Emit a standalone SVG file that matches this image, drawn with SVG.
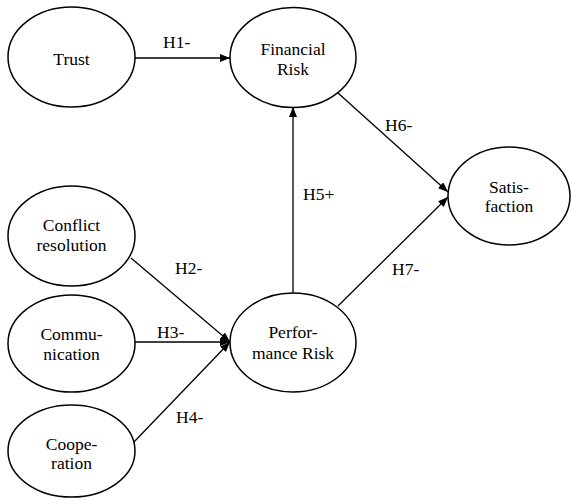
<svg xmlns="http://www.w3.org/2000/svg" width="571" height="498" viewBox="0 0 571 498">
<defs>
<marker id="ah" viewBox="0 0 10 8" refX="10" refY="4" markerWidth="10" markerHeight="8" markerUnits="userSpaceOnUse" orient="auto">
<path d="M0,0 L10,4 L0,8 Z" fill="#000"/>
</marker>
</defs>
<style>
.n ellipse{fill:#fff;stroke:#000;stroke-width:1.5}
.n text{text-anchor:middle}
.c line{stroke:#000;stroke-width:1.3;marker-end:url(#ah)}
</style>
<rect width="571" height="498" fill="#fff"/>
<g font-family="'Liberation Serif', 'Times New Roman', Times, serif" font-size="17.5" fill="#000">
<g class="c" id="connectors">
<line x1="135" y1="58" x2="230" y2="58"/>
<line x1="293" y1="293" x2="293" y2="107"/>
<line x1="338" y1="93" x2="448" y2="192"/>
<line x1="338" y1="306" x2="448" y2="197"/>
<line x1="131" y1="258" x2="230" y2="342"/>
<line x1="135" y1="342" x2="230" y2="342"/>
<line x1="133" y1="443" x2="230" y2="342"/>
<text x="163" y="48">H1-</text>
<text x="303" y="200">H5+</text>
<text x="385" y="131">H6-</text>
<text x="392" y="275">H7-</text>
<text x="175" y="274">H2-</text>
<text x="157" y="338">H3-</text>
<text x="176" y="423">H4-</text>
</g>
<g class="n" id="trust"><ellipse cx="71.5" cy="57" rx="63.5" ry="50"/><text x="71.5" y="65">Trust</text></g>
<g class="n" id="financial"><ellipse cx="293" cy="57.5" rx="63" ry="50"/><text x="293" y="55">Financial</text><text x="293" y="75">Risk</text></g>
<g class="n" id="satisfaction"><ellipse cx="509" cy="196" rx="61" ry="49"/><text x="509" y="193">Satis-</text><text x="509" y="212">faction</text></g>
<g class="n" id="performance"><ellipse cx="293" cy="342.5" rx="63" ry="49.5"/><text x="293" y="338">Perfor-</text><text x="293" y="359">mance Risk</text></g>
<g class="n" id="conflict"><ellipse cx="71.5" cy="236" rx="63.5" ry="50"/><text x="71.5" y="231">Conflict</text><text x="71.5" y="251">resolution</text></g>
<g class="n" id="communication"><ellipse cx="71.5" cy="343.5" rx="63.5" ry="48.5"/><text x="71.5" y="340">Commu-</text><text x="71.5" y="360">nication</text></g>
<g class="n" id="cooperation"><ellipse cx="71.5" cy="451" rx="63.5" ry="46"/><text x="71.5" y="450">Coope-</text><text x="71.5" y="469">ration</text></g>
</g>
</svg>
